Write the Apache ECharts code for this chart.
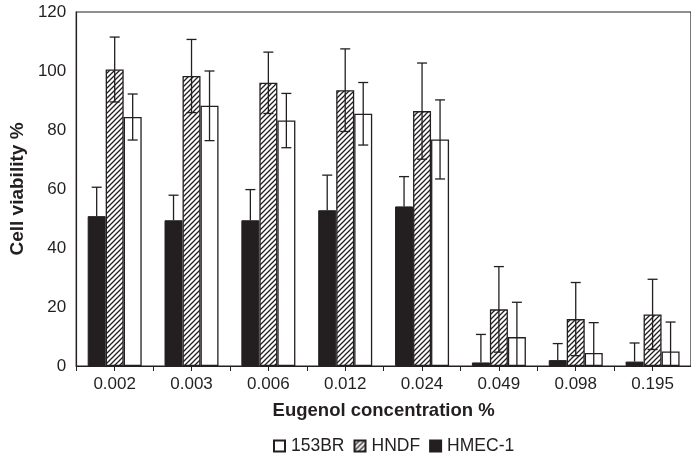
<!DOCTYPE html>
<html>
<head>
<meta charset="utf-8">
<script src="https://cdn.jsdelivr.net/npm/echarts@6/dist/echarts.min.js"></script>
<style>
  html, body { margin: 0; padding: 0; background: #fff; }
  #chart { width: 691px; height: 459px; }
</style>
</head>
<body>
<div id="chart"></div>
<script>
const categories = ['0.002', '0.003', '0.006', '0.012', '0.024', '0.049', '0.098', '0.195'];
const hmecValues = [50.8, 49.4, 49.4, 52.8, 54.1, 1.2, 2.0, 1.5];
const hmecErrors = [9.8, 8.5, 10.4, 11.9, 10.1, 9.5, 5.6, 6.3];
const hndfValues = [100.5, 98.3, 96.0, 93.5, 86.4, 19.2, 15.9, 17.5];
const hndfErrors = [11.0, 12.4, 10.4, 14.0, 16.3, 14.5, 12.4, 11.9];
const brValues = [84.4, 88.2, 83.2, 85.5, 76.8, 9.8, 4.4, 4.9];
const brErrors = [7.8, 11.8, 9.2, 10.6, 13.4, 11.8, 10.3, 10.0];
const yTicks = { min: 0, max: 120, interval: 20 };

const INK = '#231f20';
const FONT = '"Liberation Sans", Arial, Helvetica, sans-serif';
const BAR_W = 18;

function makeHatch() {
  const s = 5;
  const cv = document.createElement('canvas');
  cv.width = s; cv.height = s;
  const ctx = cv.getContext('2d');
  ctx.fillStyle = '#fff';
  ctx.fillRect(0, 0, s, s);
  ctx.strokeStyle = INK;
  ctx.lineWidth = 1.3;
  ctx.beginPath();
  ctx.moveTo(-1, s + 1); ctx.lineTo(s + 1, -1);
  ctx.moveTo(-1, 1); ctx.lineTo(1, -1);
  ctx.moveTo(s - 1, s + 1); ctx.lineTo(s + 1, s - 1);
  ctx.stroke();
  return cv;
}
const hatch = { image: makeHatch(), repeat: 'repeat' };

function errSeries(name, values, errors, offset, upOnly) {
  return {
    name: name,
    type: 'custom',
    xAxisIndex: 0,
    z: 10,
    silent: true,
    encode: { x: 0, y: 1 },
    data: categories.map((c, i) => [i, values[i], errors[i]]),
    renderItem: function (params, api) {
      const i = api.value(0), v = api.value(1), e = api.value(2);
      const c = api.coord([i, v]);
      const t = api.coord([i, v + e]);
      const lowV = v - e;
      const b = api.coord([i, Math.max(0, lowV)]);
      const cx = c[0] + offset;
      const cap = 5;
      const style = { stroke: INK, lineWidth: 1.3, fill: null };
      const children = [
        { type: 'line', shape: { x1: cx, y1: t[1], x2: cx, y2: upOnly ? c[1] : b[1] }, style: style },
        { type: 'line', shape: { x1: cx - cap, y1: t[1], x2: cx + cap, y2: t[1] }, style: style }
      ];
      if (!upOnly && lowV > 0) {
        children.push({ type: 'line', shape: { x1: cx - cap, y1: b[1], x2: cx + cap, y2: b[1] }, style: style });
      }
      return { type: 'group', children: children };
    }
  };
}

const chart = echarts.init(document.getElementById('chart'));
chart.setOption({
  animation: false,
  backgroundColor: '#fff',
  textStyle: { fontFamily: FONT, color: INK },
  grid: {
    left: 74, top: 12, right: -9, bottom: 93,
    show: true, borderColor: INK, borderWidth: 1.2, backgroundColor: 'transparent'
  },
  legend: {
    data: ['153BR', 'HNDF', 'HMEC-1'],
    left: 268, top: 432,
    icon: 'rect', itemWidth: 11, itemHeight: 11, itemGap: 9,
    selectedMode: false,
    textStyle: { fontFamily: FONT, fontSize: 17.5, color: INK, padding: [0, 0, 0, 1] }
  },
  xAxis: [{
    type: 'category',
    data: categories,
    name: 'Eugenol concentration %',
    nameLocation: 'middle',
    nameGap: 35,
    nameTextStyle: { fontFamily: FONT, fontSize: 18.5, fontWeight: 'bold', color: INK },
    axisLine: { lineStyle: { color: INK, width: 1.2 } },
    axisTick: { show: true, interval: 0, length: 5, lineStyle: { color: INK } },
    axisLabel: { fontFamily: FONT, fontSize: 17, color: INK, margin: 10, interval: 0 }
  }, {
    type: 'category',
    data: categories,
    position: 'bottom',
    axisLine: { show: false },
    axisTick: { show: true, interval: 0, alignWithLabel: true, length: 5, lineStyle: { color: INK } },
    axisLabel: { show: false }
  }],
  yAxis: {
    type: 'value',
    min: yTicks.min, max: yTicks.max, interval: yTicks.interval,
    name: 'Cell viability %',
    nameLocation: 'middle',
    nameGap: 46,
    nameTextStyle: { fontFamily: FONT, fontSize: 19, fontWeight: 'bold', color: INK },
    axisLine: { show: true, lineStyle: { color: INK, width: 1.2 } },
    axisTick: { show: false },
    splitLine: { show: false },
    axisLabel: { fontFamily: FONT, fontSize: 17, color: INK, margin: 10 }
  },
  series: [
    {
      name: 'HMEC-1', type: 'bar', xAxisIndex: 0, data: hmecValues,
      barWidth: BAR_W, barGap: '0%',
      itemStyle: { color: INK, borderColor: INK, borderWidth: 1 }
    },
    {
      name: 'HNDF', type: 'bar', xAxisIndex: 0, data: hndfValues,
      barWidth: BAR_W, barGap: '0%',
      itemStyle: { color: hatch, borderColor: INK, borderWidth: 1.3 }
    },
    {
      name: '153BR', type: 'bar', xAxisIndex: 0, data: brValues,
      barWidth: BAR_W, barGap: '0%',
      itemStyle: { color: '#fff', borderColor: INK, borderWidth: 1.3 }
    },
    errSeries('HMEC-1 err', hmecValues, hmecErrors, -BAR_W, true),
    errSeries('HNDF err', hndfValues, hndfErrors, 0, false),
    errSeries('153BR err', brValues, brErrors, BAR_W, false)
  ]
});
</script>
</body>
</html>
